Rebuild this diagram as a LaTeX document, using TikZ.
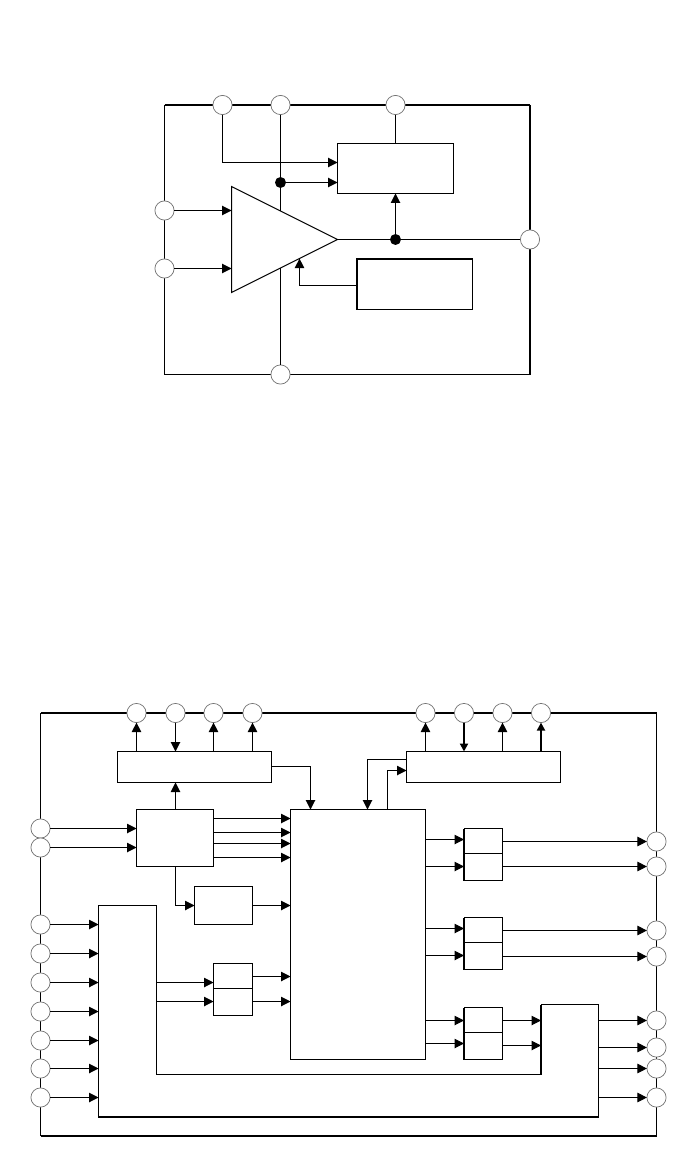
\documentclass[tikz,border=0pt]{standalone}
\usetikzlibrary{arrows.meta}
\tikzset{
  pin/.style={circle,draw=black!55,line width=0.7pt,fill=white,minimum size=19.2pt,inner sep=0pt,outer sep=0pt},
  blk/.style={rectangle,draw=black,line width=1pt,fill=white,inner sep=0pt,outer sep=0pt},
  wire/.style={draw=black,line width=1pt},
  heavy/.style={draw=black,line width=2pt},
  arr/.style={wire,-{Triangle[length=9.5pt,width=9.5pt]}},
  arrh/.style={heavy,-{Triangle[length=8pt,width=8pt]}},
  dot/.style={circle,fill=black,minimum size=11pt,inner sep=0pt,outer sep=0pt}
}
\newcommand{\blkat}[5]{%
  \pgfmathsetmacro{\bw}{#4-#2}\pgfmathsetmacro{\bh}{#5-#3}%
  \pgfmathsetmacro{\bx}{(#4+#2)/2}\pgfmathsetmacro{\by}{(#5+#3)/2}%
  \node[blk,minimum width=\bw pt,minimum height=\bh pt] (#1) at (\bx,\by) {};}
\newcommand{\pinat}[3]{\node[pin] (#1) at (#2,#3) {};}
\begin{document}
\begin{tikzpicture}[x=1pt,y=-1pt]
\useasboundingbox (0,0) rectangle (698,1174);
\fill[white] (0,0) rectangle (698,1174);

% ---------- upper diagram: frame ----------
\coordinate (unw) at (164.5,105);
\coordinate (une) at (530,105);
\coordinate (use) at (530,374.5);
\coordinate (usw) at (164.5,374.5);
\draw[heavy] (unw) -- (une);
\draw[heavy] (une) -- (use);
\draw[wire] (use) -- (usw);
\draw[wire] (usw) -- (unw);

% triangle amplifier
\coordinate (ta) at (231.5,186.5);
\coordinate (tb) at (231.5,292.5);
\coordinate (tc) at (337.5,239.5);
\coordinate (tetop) at (280.5,211);
\coordinate (tebot) at (280.5,268);
\coordinate (tein) at (299.5,258.6);
\draw[wire,fill=white] (ta) -- (tb) -- (tc) -- cycle;

\blkat{ubox}{337.5}{143.5}{453.5}{193.5}
\blkat{uref}{356.5}{258.5}{472.5}{309.5}
\draw[heavy] (uref.north west) -- (uref.north east);
\draw[heavy] (uref.north west) -- (uref.south west);

\pinat{ua}{222.5}{105}
\pinat{ub}{280.5}{105}
\pinat{uc}{395.5}{105}
\pinat{ud}{164.5}{210.5}
\pinat{ue}{164.5}{268.5}
\pinat{uf}{530}{239.5}
\pinat{ug}{280.5}{374.5}
\node[dot] (d1) at (280.5,182.5) {};
\node[dot] (d2) at (395.5,239.5) {};

\draw[wire] (ub) -- (d1);
\draw[wire] (d1) -- (tetop);
\draw[wire] (tebot) -- (ug);
\draw[wire] (uc) -- (ubox.north);
\draw[arr] (ua) |- (ubox.west |- 0,162.5);
\draw[arr] (d1) -- (ubox.west |- d1);
\draw[arr] (ud) -- (ta |- ud);
\draw[arr] (ue) -- (ta |- ue);
\draw[wire] (tc) -- (d2);
\draw[wire] (d2) -- (uf);
\draw[arr] (d2) -- (ubox.south);
\draw[arr] (uref.west |- 0,285.5) -| (tein);

% ---------- lower diagram: frame ----------
\coordinate (lnw) at (40.5,713);
\coordinate (lne) at (656.5,713);
\coordinate (lse) at (656.5,1136);
\coordinate (lsw) at (40.5,1136);
\draw[heavy] (lnw) -- (lne);
\draw[wire] (lne) -- (lse);
\draw[heavy] (lse) -- (lsw);
\draw[wire] (lsw) -- (lnw);

\blkat{ioa}{117.5}{751.5}{271.5}{782.5}
\blkat{iob}{406.5}{751.5}{560.5}{782.5}
\blkat{dec}{136.5}{809.5}{213.5}{866.5}
\blkat{core}{290.5}{809.5}{425.5}{1059.5}
\blkat{osc}{194.5}{886.5}{252.5}{924.5}
\blkat{fa}{213.5}{963.5}{252.5}{988.5}
\blkat{fb}{213.5}{988.5}{252.5}{1015.5}
\blkat{ga}{464}{828.5}{502.5}{853.5}
\blkat{gb}{464}{853.5}{502.5}{880.5}
\blkat{ha}{464}{917.5}{502.5}{942.5}
\blkat{hb}{464}{942.5}{502.5}{969.5}
\blkat{ja}{464}{1007.5}{502.5}{1032.5}
\blkat{jb}{464}{1032.5}{502.5}{1059.5}
\draw[heavy] (ga.north west) -- (gb.south west);
\draw[heavy] (ha.north west) -- (hb.south west);
\draw[heavy] (ja.north west) -- (jb.south west);

% L-shaped block
\coordinate (la) at (98.5,905.5);
\coordinate (lb) at (156.5,905.5);
\coordinate (lc) at (156.5,1074.5);
\coordinate (ld) at (541,1074.5);
\coordinate (le) at (541,1004.5);
\coordinate (lf) at (598.5,1004.5);
\coordinate (lg) at (598.5,1117);
\coordinate (lh) at (98.5,1117);
\draw[wire,fill=white] (la) -- (lb) -- (lc) -- (ld) -- (le) -- (lf) -- (lg) -- (lh) -- cycle;
\draw[heavy] (lg) -- (lh);
\draw[heavy] (ld) -- (le);

% top pins
\pinat{ta1}{136.5}{713}
\pinat{ta2}{175.5}{713}
\pinat{ta3}{213.5}{713}
\pinat{ta4}{252.5}{713}
\pinat{tb1}{425.5}{713}
\pinat{tb2}{464}{713}
\pinat{tb3}{502.5}{713}
\pinat{tb4}{541}{713}
% left pins
\pinat{la1}{40.5}{828.5}
\pinat{la2}{40.5}{847.5}
\pinat{lp1}{40.5}{924.5}
\pinat{lp2}{40.5}{953.5}
\pinat{lp3}{40.5}{982.5}
\pinat{lp4}{40.5}{1011.5}
\pinat{lp5}{40.5}{1040.5}
\pinat{lp6}{40.5}{1068.5}
\pinat{lp7}{40.5}{1097.5}
% right pins
\pinat{r1}{656.5}{841.5}
\pinat{r2}{656.5}{866.5}
\pinat{r3}{656.5}{930.5}
\pinat{r4}{656.5}{956.5}
\pinat{r5}{656.5}{1020.5}
\pinat{r6}{656.5}{1047.5}
\pinat{r7}{656.5}{1068.5}
\pinat{r8}{656.5}{1097.5}

% top connectors
\draw[arr] (ioa.north -| ta1) -- (ta1);
\draw[arr] (ta2) -- (ioa.north -| ta2);
\draw[arr] (ioa.north -| ta3) -- (ta3);
\draw[arr] (ioa.north -| ta4) -- (ta4);
\draw[arr] (iob.north -| tb1) -- (tb1);
\draw[arrh] (tb2) -- (iob.north -| tb2);
\draw[arr] (iob.north -| tb3) -- (tb3);
\draw[arrh] (iob.north -| tb4) -- (tb4);

% block links
\draw[arr] (ioa.east |- 0,766.5) -| (core.north -| 310.5,0);
\draw[arr] (iob.west |- 0,759.5) -| (core.north -| 367.5,0);
\draw[arr] (core.north -| 387.5,0) |- (iob.west |- 0,770.5);
\draw[arr] (dec.north -| ta2) -- (ioa.south -| ta2);
\draw[arr] (dec.east |- 0,818.5) -- (core.west |- 0,818.5);
\draw[arr] (dec.east |- 0,832.5) -- (core.west |- 0,832.5);
\draw[arr] (dec.east |- 0,843.5) -- (core.west |- 0,843.5);
\draw[arr] (dec.east |- 0,857.5) -- (core.west |- 0,857.5);
\draw[arr] (dec.south -| ta2) |- (osc.west);
\draw[arr] (osc.east) -- (core.west |- osc.east);

% left pins to blocks
\draw[arr] (la1) -- (dec.west |- la1);
\draw[arr] (la2) -- (dec.west |- la2);
\foreach \p in {lp1,lp2,lp3,lp4,lp5,lp6,lp7}
  \draw[arr] (\p) -- (la |- \p);

% L block to f pair, f pair to core
\draw[arr] (lb |- lp3) -- (fa.west |- lp3);
\draw[arr] (lb |- 0,1001.5) -- (fb.west |- 0,1001.5);
\draw[arr] (fa.east |- 0,976.5) -- (core.west |- 0,976.5);
\draw[arr] (fb.east |- 0,1001.5) -- (core.west |- 0,1001.5);

% core to output pairs
\draw[arr] (core.east |- 0,839.5) -- (ga.west |- 0,839.5);
\draw[arr] (core.east |- 0,866.5) -- (gb.west |- 0,866.5);
\draw[arr] (core.east |- 0,928.5) -- (ha.west |- 0,928.5);
\draw[arr] (core.east |- 0,955.5) -- (hb.west |- 0,955.5);
\draw[arr] (core.east |- 0,1020.5) -- (ja.west |- 0,1020.5);
\draw[arr] (core.east |- 0,1043.5) -- (jb.west |- 0,1043.5);

% output pairs to pins
\draw[arr] (ga.east |- r1) -- (r1);
\draw[arr] (gb.east |- r2) -- (r2);
\draw[arr] (ha.east |- r3) -- (r3);
\draw[arr] (hb.east |- r4) -- (r4);
\draw[arr] (ja.east |- r5) -- (le |- r5);
\draw[arr] (jb.east |- 0,1045.5) -- (le |- 0,1045.5);
\draw[arr] (lf |- r5) -- (r5);
\draw[arr] (lf |- r6) -- (r6);
\draw[arr] (lf |- r7) -- (r7);
\draw[arr] (lf |- r8) -- (r8);
\end{tikzpicture}
\end{document}
